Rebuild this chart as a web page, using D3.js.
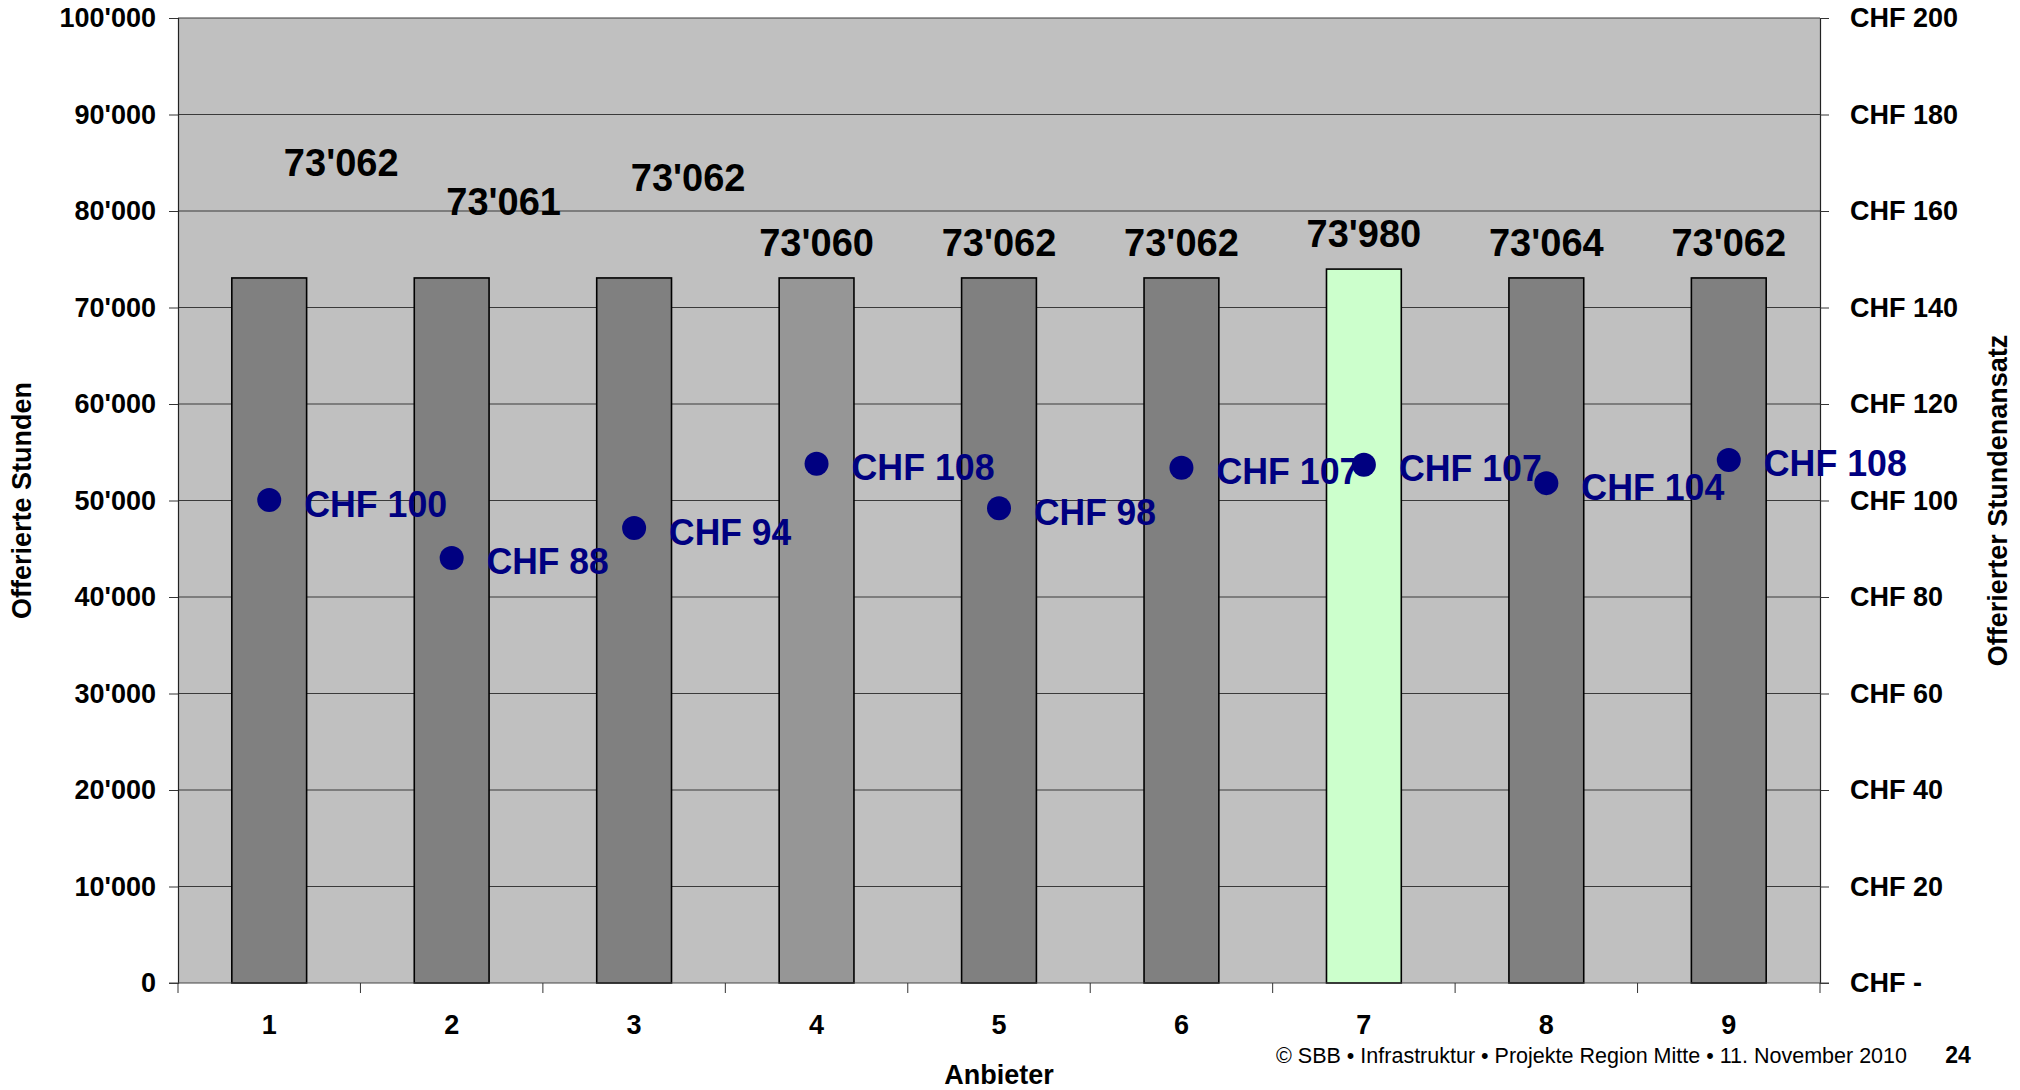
<!DOCTYPE html>
<html>
<head>
<meta charset="utf-8">
<script src="https://cdn.jsdelivr.net/npm/d3@7/dist/d3.min.js"></script>
<style>
  body { margin: 0; background: #fff; }
  svg { display: block; font-family: "Liberation Sans", Arial, sans-serif; }
</style>
</head>
<body>
<svg id="chart" width="2020" height="1090"></svg>
<script>
// data
const categories = ["1", "2", "3", "4", "5", "6", "7", "8", "9"];
const hours = [73062, 73061, 73062, 73060, 73062, 73062, 73980, 73064, 73062];
const rates = [100.1, 88.1, 94.3, 107.6, 98.4, 106.8, 107.4, 103.6, 108.4];
const hourTicks = [0, 10000, 20000, 30000, 40000, 50000, 60000, 70000, 80000, 90000, 100000];
const rateTicks = [0, 20, 40, 60, 80, 100, 120, 140, 160, 180, 200];

// hand-moved bar labels (dx, dy in px)
const labelShift = [[72, -80], [52, -41], [54, -65], [0, 0], [0, 0], [0, 0], [0, 0], [0, 0], [0, 0]];

const margin = {left: 178, right: 1820, top: 18, bottom: 983};
const svg = d3.select("#chart");

const swiss = d3.formatLocale({decimal: ".", thousands: "'", grouping: [3], currency: ["", ""]});
const fmt = swiss.format(",.0f");

const x = d3.scaleBand().domain(categories)
    .range([margin.left, margin.right])
    .paddingInner(0.59).paddingOuter(0.295);
const yL = d3.scaleLinear().domain([0, 100000]).range([margin.bottom, margin.top]);
const yR = d3.scaleLinear().domain([0, 200]).range([margin.bottom, margin.top]);

// plot background
svg.append("rect")
    .attr("x", margin.left).attr("y", margin.top)
    .attr("width", margin.right - margin.left)
    .attr("height", margin.bottom - margin.top)
    .attr("fill", "#c0c0c0");

// gridlines
svg.append("g").selectAll("line").data(hourTicks.slice(1)).join("line")
    .attr("x1", margin.left).attr("x2", margin.right)
    .attr("y1", d => yL(d)).attr("y2", d => yL(d))
    .attr("stroke", "#3a3a3a").attr("stroke-width", 1);

// left axis
const left = svg.append("g").attr("transform", `translate(${margin.left},0)`)
    .call(d3.axisLeft(yL).tickValues(hourTicks).tickSize(9).tickPadding(13).tickFormat(fmt));
left.select(".domain").attr("stroke", "#222").attr("stroke-width", 1.2);
left.selectAll(".tick line").attr("stroke", "#333");
left.selectAll("text").attr("font-size", 27).attr("font-weight", "bold")
    .attr("font-family", "Liberation Sans, Arial, sans-serif").attr("fill", "#000");

// right axis
const right = svg.append("g").attr("transform", `translate(${margin.right},0)`)
    .call(d3.axisRight(yR).tickValues(rateTicks).tickSize(9).tickPadding(21)
        .tickFormat(d => d === 0 ? "CHF -" : "CHF " + d));
right.select(".domain").attr("stroke", "#222").attr("stroke-width", 1.2);
right.selectAll(".tick line").attr("stroke", "#333");
right.selectAll("text").attr("font-size", 27).attr("font-weight", "bold")
    .attr("font-family", "Liberation Sans, Arial, sans-serif").attr("fill", "#000");

// bars
const barFill = i => i === 6 ? "#ccffcc" : (i === 3 ? "#969696" : "#808080");
svg.append("g").selectAll("rect").data(hours).join("rect")
    .attr("x", (d, i) => x(categories[i]))
    .attr("y", d => yL(d))
    .attr("width", x.bandwidth())
    .attr("height", d => yL(0) - yL(d))
    .attr("fill", (d, i) => barFill(i))
    .attr("stroke", "#000").attr("stroke-width", 1.6);

// bottom axis: baseline + ticks between categories
const step = x.step();
const bottom = svg.append("g");
bottom.append("line")
    .attr("x1", margin.left - 9).attr("x2", margin.right + 9)
    .attr("y1", margin.bottom).attr("y2", margin.bottom)
    .attr("stroke", "#444").attr("stroke-width", 1.2);
const bounds = categories.map(c => x(c) - step * x.paddingInner() / 2).concat([margin.right]);
bottom.selectAll("line.tk").data(bounds).join("line").attr("class", "tk")
    .attr("x1", d => d).attr("x2", d => d)
    .attr("y1", margin.bottom).attr("y2", margin.bottom + 10)
    .attr("stroke", "#333");
bottom.selectAll("text").data(categories).join("text")
    .attr("x", d => x(d) + x.bandwidth() / 2)
    .attr("y", 1025)
    .attr("dominant-baseline", "central")
    .attr("text-anchor", "middle")
    .attr("font-size", 27).attr("font-weight", "bold")
    .text(d => d);

// bar value labels
svg.append("g").selectAll("text").data(hours).join("text")
    .attr("x", (d, i) => x(categories[i]) + x.bandwidth() / 2 + labelShift[i][0])
    .attr("y", (d, i) => yL(d) - 35 + labelShift[i][1])
    .attr("dominant-baseline", "central")
    .attr("text-anchor", "middle")
    .attr("font-size", 38).attr("font-weight", "bold").attr("fill", "#000")
    .text(d => fmt(d));

// rate labels and markers
const cx = i => x(categories[i]) + x.bandwidth() / 2;
svg.append("g").selectAll("text").data(rates).join("text")
    .attr("x", (d, i) => cx(i) + 35)
    .attr("y", d => yR(d) + 4)
    .attr("dominant-baseline", "central")
    .attr("font-size", 37).attr("font-weight", "bold").attr("fill", "#000080")
    .attr("textLength", d => Math.round(d) >= 100 ? 143 : 122)
    .attr("lengthAdjust", "spacingAndGlyphs")
    .text(d => "CHF " + Math.round(d));
svg.append("g").selectAll("circle").data(rates).join("circle")
    .attr("cx", (d, i) => cx(i))
    .attr("cy", d => yR(d))
    .attr("r", 12)
    .attr("fill", "#000080");

// axis titles
svg.append("text")
    .attr("transform", `translate(22,${(margin.top + margin.bottom) / 2}) rotate(-90)`)
    .attr("dominant-baseline", "central").attr("text-anchor", "middle")
    .attr("font-size", 27).attr("font-weight", "bold")
    .text("Offerierte Stunden");
svg.append("text")
    .attr("transform", `translate(1998,${(margin.top + margin.bottom) / 2}) rotate(-90)`)
    .attr("dominant-baseline", "central").attr("text-anchor", "middle")
    .attr("font-size", 27).attr("font-weight", "bold")
    .text("Offerierter Stundenansatz");
svg.append("text")
    .attr("x", (margin.left + margin.right) / 2).attr("y", 1075)
    .attr("dominant-baseline", "central").attr("text-anchor", "middle")
    .attr("font-size", 27).attr("font-weight", "bold")
    .text("Anbieter");

// footer
svg.append("text")
    .attr("x", 1276).attr("y", 1055)
    .attr("dominant-baseline", "central")
    .attr("font-family", "Liberation Sans Narrow, Liberation Sans, Arial, sans-serif")
    .attr("font-size", 22)
    .attr("textLength", 631).attr("lengthAdjust", "spacingAndGlyphs")
    .text("© SBB • Infrastruktur • Projekte Region Mitte • 11. November 2010");
svg.append("text")
    .attr("x", 1958).attr("y", 1055)
    .attr("dominant-baseline", "central").attr("text-anchor", "middle")
    .attr("font-size", 23).attr("font-weight", "bold")
    .text("24");
</script>
</body>
</html>
